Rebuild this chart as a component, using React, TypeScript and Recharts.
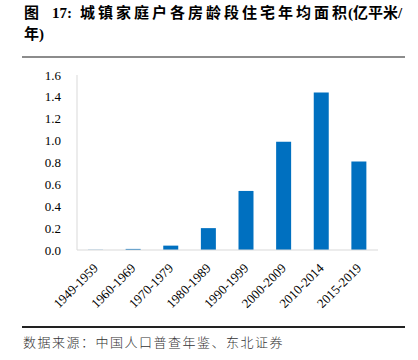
import { Bar, BarChart, XAxis, YAxis } from "recharts"

const periods = [
  "1949-1959",
  "1960-1969",
  "1970-1979",
  "1980-1989",
  "1990-1999",
  "2000-2009",
  "2010-2014",
  "2015-2019",
]

const areas = [0.002, 0.01, 0.04, 0.2, 0.54, 0.99, 1.44, 0.81]

const yTicks = [0, 0.2, 0.4, 0.6, 0.8, 1.0, 1.2, 1.4, 1.6]

const data = periods.map((p, i) => ({ period: p, area: areas[i] }))

const serif = '"Liberation Serif", "Noto Sans CJK SC", serif'

const PeriodTick = ({ x, y, payload }: any) => {
  const tx = Number(x) + 3
  const ty = Number(y) + 17
  return (
    <text
      x={tx}
      y={ty}
      transform={`rotate(-45 ${tx} ${ty})`}
      textAnchor="end"
      fill="#000"
      fontSize={13}
      fontFamily={serif}
    >
      {payload.value}
    </text>
  )
}

export default function App() {
  return (
    <div
      style={{
        position: "absolute",
        left: 0,
        top: 0,
        width: 418,
        height: 360,
        background: "#fff",
        fontFamily: serif,
      }}
    >
      {/* title, justified in the original so spacing is uneven */}
      <div
        style={{
          position: "absolute",
          left: 24,
          top: 3,
          width: 390,
          fontSize: 15,
          fontWeight: "bold",
          lineHeight: "21px",
          color: "#000",
          whiteSpace: "nowrap",
        }}
      >
        <span>图</span>
        <span style={{ marginLeft: 13 }}>17:</span>
        <span style={{ marginLeft: 8, letterSpacing: 3 }}>城镇家庭户各房龄段住宅年均面积</span>
        <span style={{ marginLeft: -2 }}>(亿平米/</span>
        <br />
        年)
      </div>
      <div
        style={{
          position: "absolute",
          left: 22,
          top: 56,
          width: 383,
          height: 1.5,
          background: "#8c8c8c",
        }}
      />
      <div style={{ position: "absolute", left: 0, top: 60 }}>
        <BarChart
          width={418}
          height={260}
          data={data}
          margin={{ top: 15, right: 40, bottom: 0, left: 0 }}
        >
          <XAxis
            dataKey="period"
            stroke="#d9d9d9"
            tickLine={false}
            tickSize={0}
            interval={0}
            height={70}
            tick={<PeriodTick />}
          />
          <YAxis
            domain={[0, 1.6]}
            ticks={yTicks}
            tickFormatter={(v: number) => v.toFixed(1)}
            stroke="#d9d9d9"
            tickLine={false}
            tickSize={0}
            tickMargin={16}
            width={77}
            tick={{ fill: "#000", fontSize: 13, fontFamily: serif }}
          />
          <Bar dataKey="area" fill="#0070C0" barSize={15} isAnimationActive={false} />
        </BarChart>
      </div>
      <div
        style={{
          position: "absolute",
          left: 22,
          top: 326,
          width: 383,
          height: 1.5,
          background: "#222",
        }}
      />
      <div
        style={{
          position: "absolute",
          left: 23,
          top: 332,
          fontSize: 13,
          letterSpacing: 1.5,
          fontWeight: 300,
          color: "#333",
          fontFamily: '"Noto Sans CJK SC", sans-serif',
          whiteSpace: "nowrap",
        }}
      >
        数据来源：中国人口普查年鉴、东北证券
      </div>
    </div>
  )
}
